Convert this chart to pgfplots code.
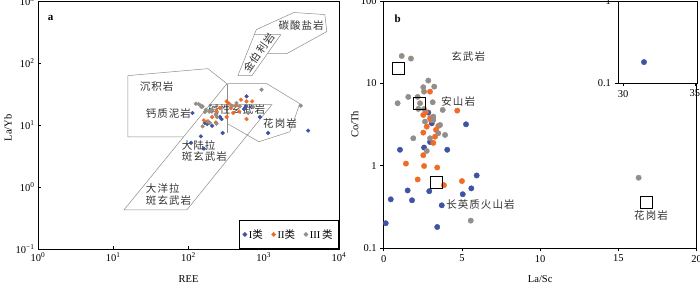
\documentclass[border=0pt]{standalone}
\usepackage{pgfplots}
\pgfplotsset{compat=1.18}
\usepackage{fontspec}
\setmainfont{Liberation Serif}
\newfontfamily\cjk[LetterSpace=10]{Noto Sans CJK SC}
\definecolor{cI}{RGB}{62,84,163}
\definecolor{cII}{RGB}{240,108,38}
\definecolor{cIII}{RGB}{148,142,136}
\newcommand{\fs}{\fontsize{10.5}{11.7}\selectfont}
\tikzset{lab/.style={font=\cjk\fs, text=black!80, inner sep=0pt}}
\pgfplotsset{
  base/.style={scale only axis, anchor=south west,
    axis line style={line width=0.8pt},
    tick style={black, line width=0.6pt},
    major tick length=3.5pt, minor tick length=0pt,
    tick label style={font=\fs}, label style={font=\fs},
    /pgf/number format/assume math mode=true,
    xtick pos=bottom, ytick pos=left},
  poly/.style={black!45, line width=0.5pt, no markers},
}
\begin{document}
\begin{tikzpicture}
\path[use as bounding box] (0,0) rectangle (700pt,284pt);
% ---------------- panel a ----------------
\begin{axis}[base, at={(38pt,35pt)}, width=301pt, height=247.5pt,
  xmode=log, ymode=log, xmin=1, xmax=10000, ymin=0.1, ymax=1000,
  tick align=inside,
  xtick={1,10,100,1000,10000},
  xticklabels={10\textsuperscript{0},10\textsuperscript{1},10\textsuperscript{2},10\textsuperscript{3},10\textsuperscript{4}},
  ytick={0.1,1,10,100,1000},
  yticklabels={10\textsuperscript{−1},10\textsuperscript{0},10\textsuperscript{1},10\textsuperscript{2},10\textsuperscript{3}},
  xlabel={REE}, ylabel={La/Yb},
  xlabel style={at={(axis description cs:0.5,0)}, anchor=center, yshift=-29.7pt},
  ylabel style={at={(axis description cs:-0.0997,0.49)}, anchor=center},
  legend style={at={(1,0)}, anchor=south east, draw=black, line width=0.8pt,
    font=\fs, inner xsep=4pt, inner ysep=7pt,
    /tikz/every even column/.append style={column sep=7pt}},
  legend columns=3,
  legend image code/.code={\draw[mark repeat=2,mark phase=2,#1] plot coordinates {(0pt,0pt) (3pt,0pt) (6pt,0pt)};},
]
\addplot[poly, forget plot] coordinates {(13.9,0.429) (192,21.5) (1282,21.5) (95.2,0.429) (13.9,0.429)};
\addplot[poly, forget plot] coordinates {(192,21.5) (324,47.0)};
\addplot[poly, forget plot] coordinates {(86,6.51) (15.7,6.51) (15.7,63.4) (181,82.2) (324,47.0)};
\addplot[poly, forget plot] coordinates {(330,47.0) (1099,47.0) (3015,22.3) (2222,7.85) (861,5.41) (330,10.6)};
\addplot[poly, forget plot] coordinates {(330,47.0) (330,7.56)};
\addplot[poly, forget plot] coordinates {(453,63.4) (750,292) (1687,292) (695,63.4) (453,63.4)};
\addplot[poly, forget plot] coordinates {(750,292) (798,352) (2512,664) (6478,615) (6887,327) (2027,144) (1133,144)};
\node[font=\bfseries\fontsize{11}{12}\selectfont] at (rel axis cs:0.042,0.934) {a};
\node[lab] at (rel axis cs:0.874,0.903) {碳酸盐岩};
\node[lab, rotate=55] at (rel axis cs:0.734,0.792) {金伯利岩};
\node[lab] at (rel axis cs:0.394,0.655) {沉积岩};
\node[lab] at (rel axis cs:0.433,0.549) {钙质泥岩};
\node[lab] at (rel axis cs:0.660,0.563) {碱性玄武岩};
\node[lab] at (rel axis cs:0.804,0.509) {花岗岩};
\node[lab, anchor=west, align=left] at (rel axis cs:0.477,0.396) {大陆拉\\斑玄武岩};
\node[lab, anchor=west, align=left] at (rel axis cs:0.358,0.219) {大洋拉\\斑玄武岩};
\addplot[only marks, mark=*, mark size=1.9pt, color=cI] table {
113 15.8
591 29.3
888 13.6
1143 7.5
3890 8.2
284 7.5
146 6.6
206 9.8
165 10.9
261 13.6
275 12.6
689 19.7
549 18.3
177 10.5
108 5.2
160 4.2
578 20.2
};
\addlegendentry{I{\cjk 类}}
\addplot[only marks, mark=*, mark size=1.9pt, color=cII] table {
321 24.3
366 19.0
497 25.9
591 24.3
701 24.3
392 15.8
591 12.6
206 13.6
160 12.0
321 13.6
471 16.7
261 19.0
236 16.7
177 11.5
231 11.1
430 21.0
344 22.5
};
\addlegendentry{II{\cjk 类}}
\addplot[only marks, mark=*, mark size=1.9pt, color=cIII] table {
935 37.6
3110 20.7
125 22.3
136 22.0
144 20.9
154 20.2
170 17.8
165 16.4
188 16.7
183 11.5
240 13.6
236 10.6
154 9.6
192 10.9
149 19.7
203 17.8
231 14.8
435 22.9
481 20.2
374 20.7
723 19.7
621 15.8
};
\addlegendentry{III\,{\cjk 类}}
\end{axis}
% ---------------- panel b ----------------
\begin{axis}[base, at={(383.7pt,36pt)}, width=313pt, height=247pt,
  ymode=log, xmin=0, xmax=20, ymin=0.1, ymax=100,
  tick align=outside,
  xtick={0,5,10,15,20}, xticklabels={0,5,10,15,20},
  ytick={0.1,1,10,100}, yticklabels={0.1,1,10,100},
  xlabel={La/Sc}, ylabel={Co/Th},
  xlabel style={at={(axis description cs:0.5,0)}, anchor=center, yshift=-30.7pt},
  ylabel style={at={(axis description cs:-0.0927,0.5)}, anchor=center},
]
\node[font=\bfseries\fontsize{11}{12}\selectfont] at (rel axis cs:0.045,0.927) {b};
\node[lab] at (rel axis cs:0.270,0.777) {玄武岩};
\node[lab] at (rel axis cs:0.238,0.595) {安山岩};
\node[lab] at (rel axis cs:0.309,0.175) {长英质火山岩};
\node[lab] at (rel axis cs:0.854,0.130) {花岗岩};
\addplot[only marks, mark=*, mark size=2.7pt, color=cI] table {
2.85 4.41
3.07 3.27
5.26 3.18
1.04 1.56
2.58 1.66
4.06 1.56
5.94 0.76
1.53 0.50
0.45 0.39
1.81 0.38
2.91 0.49
3.71 0.33
5.05 0.45
5.60 0.53
0.13 0.20
3.42 0.18
2.96 1.94
};
\addplot[only marks, mark=*, mark size=2.7pt, color=cII] table {
2.96 7.93
4.70 4.66
2.53 4.13
2.96 3.77
2.75 2.98
3.49 3.04
2.53 2.52
3.28 2.25
3.17 1.89
2.53 1.34
1.42 1.06
2.58 0.99
3.42 0.95
2.17 0.68
3.85 0.58
5.00 0.65
2.70 4.49
3.34 2.72
3.02 3.59
};
\addplot[only marks, mark=*, mark size=2.7pt, color=cIII] table {
1.15 21.5
1.74 20.0
2.85 10.8
2.53 8.97
3.23 9.12
2.58 7.93
0.89 5.73
1.57 6.84
2.17 6.84
2.32 5.73
3.13 5.89
2.21 4.89
2.58 4.86
3.77 4.75
2.64 3.43
3.17 3.59
3.60 3.12
3.92 2.36
3.49 2.48
1.89 2.15
2.75 1.51
2.96 2.15
3.17 3.94
16.29 0.714
5.56 0.215
};
\addplot[only marks, mark=square, mark size=6pt, draw=black, line width=0.9pt] table {
0.97 15.0
2.30 5.70
3.39 0.625
16.82 0.36
};
\end{axis}
% ---------------- inset ----------------
\begin{axis}[base, at={(618pt,201pt)}, width=79pt, height=82pt,
  ymode=log, xmin=29.65, xmax=35.15, ymin=0.1, ymax=1,
  tick align=outside,
  axis background/.style={fill=white},
  xtick={30,35}, xticklabels={30,35},
  ytick={0.1,1}, yticklabels={0.1,1},
]
\addplot[only marks, mark=*, mark size=2.7pt, color=cI] coordinates {(31.46,0.18)};
\end{axis}
\end{tikzpicture}
\end{document}
